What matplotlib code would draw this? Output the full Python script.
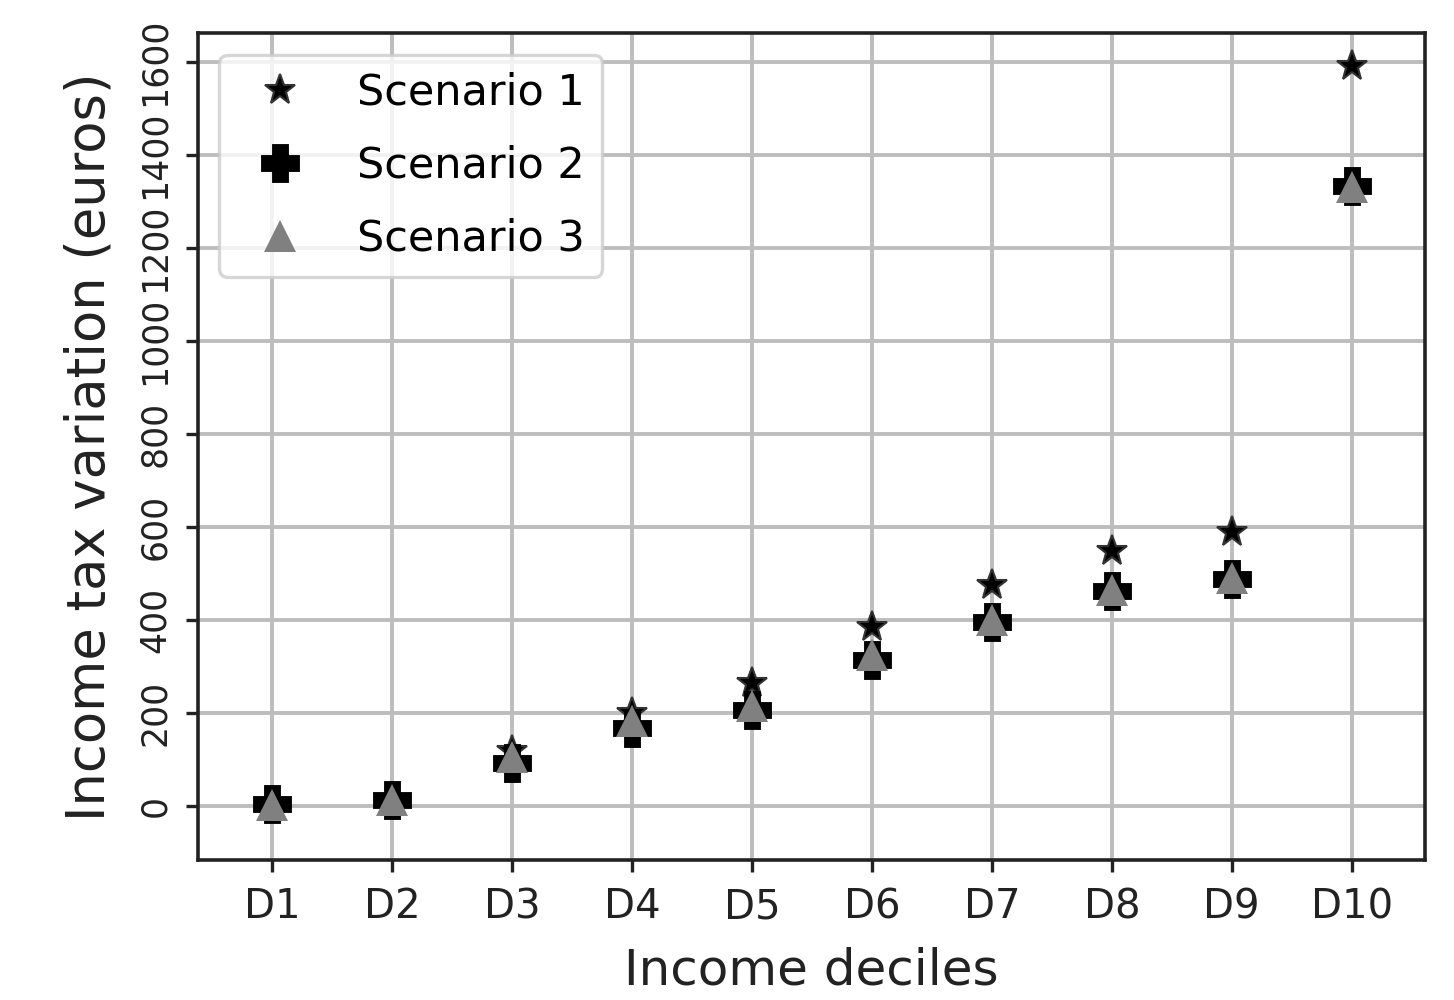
import numpy as np
import matplotlib
matplotlib.use("Agg")
import matplotlib.pyplot as plt

deciles = ["D1", "D2", "D3", "D4", "D5", "D6", "D7", "D8", "D9", "D10"]
scenario_1 = [5, 15, 118, 200, 264, 385, 475, 548, 590, 1590]
scenario_2 = [4, 13, 92, 168, 206, 314, 396, 462, 488, 1333]
scenario_3 = [2, 13, 105, 183, 216, 324, 400, 464, 490, 1331]
yticks = [0, 200, 400, 600, 800, 1000, 1200, 1400, 1600]

plt.rcParams.update({
    "font.family": "DejaVu Sans",
    "axes.edgecolor": "#222222",
    "axes.linewidth": 2.6,
    "xtick.major.size": 8.6,
    "ytick.major.size": 8.6,
    "xtick.major.width": 2.4,
    "ytick.major.width": 2.4,
    "xtick.major.pad": 11,
    "ytick.major.pad": 10,
    "xtick.color": "#222222",
    "ytick.color": "#222222",
})

fig = plt.figure(figsize=(14.54, 10), dpi=100)
ax = fig.add_axes([0.136, 0.14, 0.844, 0.827])

x = np.arange(len(deciles))
ax.plot(x, scenario_1, linestyle="none", marker="*", markersize=23,
        color="black", markeredgecolor="#333333", markeredgewidth=1.5,
        label="Scenario 1")
ax.plot(x, scenario_2, linestyle="none", marker="P", markersize=24,
        color="black", markeredgewidth=3.5, label="Scenario 2")
ax.plot(x, scenario_3, linestyle="none", marker="^", markersize=23,
        color="#808080", markeredgewidth=0, label="Scenario 3")

ax.set_xticks(x)
ax.set_xticklabels(deciles, fontsize=29)
ax.set_yticks(yticks)
ax.set_yticklabels([str(v) for v in yticks], fontsize=25, rotation=90,
                   va="center")
ax.set_xlim(-0.62, 9.61)
ax.set_ylim(-116, 1662)

ax.set_xlabel("Income deciles", fontsize=36, color="#222222", labelpad=14)
ax.set_ylabel("Income tax variation (euros)", fontsize=38, color="#222222",
              labelpad=16)
ax.grid(True, color="#bdbdbd", linewidth=2.8)
ax.set_axisbelow(True)

leg = ax.legend(loc="upper left", fontsize=31, framealpha=0.8,
                labelspacing=0.72)
leg.get_frame().set_linewidth(2.4)
leg.get_frame().set_edgecolor("#cccccc")

fig.savefig("out.png", dpi=100)
